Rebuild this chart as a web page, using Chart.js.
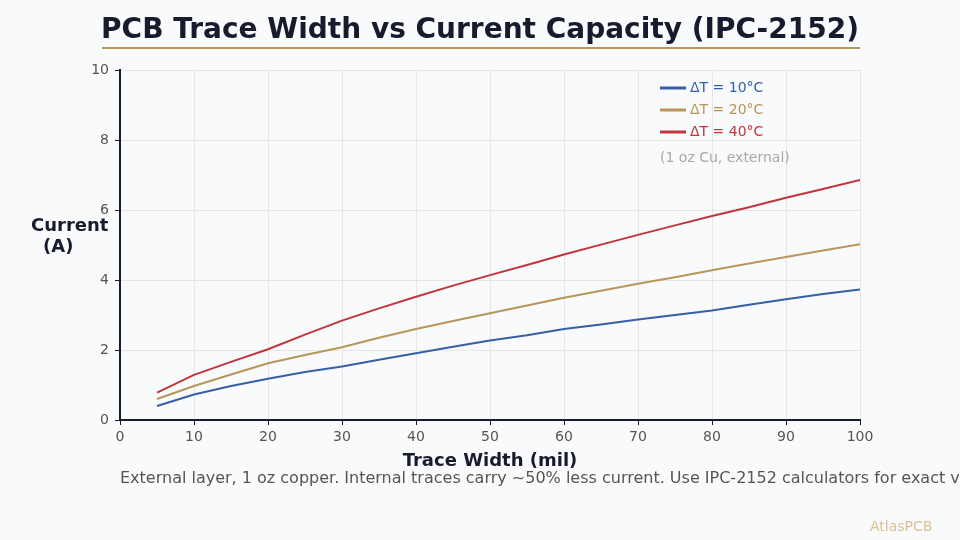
<!DOCTYPE html>
<html>
<head>
<meta charset="utf-8">
<script src="https://cdn.jsdelivr.net/npm/chart.js@4"></script>
<style>
  html, body { margin: 0; padding: 0; background: #f9fafc; }
  #wrap { width: 960px; height: 540px; }
</style>
</head>
<body>
<div id="wrap"><canvas id="chart" width="960" height="540"></canvas></div>
<script>
// trace width in mil
const widths = [5, 10, 15, 20, 25, 30, 35, 40, 45, 50, 55, 60, 65, 70, 75, 80, 85, 90, 95, 100];
// current in A for each temperature rise
const rise10 = [0.40, 0.73, 0.97, 1.18, 1.37, 1.53, 1.72, 1.91, 2.09, 2.27, 2.42, 2.60, 2.73, 2.87, 3.00, 3.13, 3.29, 3.45, 3.60, 3.73];
const rise20 = [0.60, 0.97, 1.30, 1.62, 1.86, 2.08, 2.35, 2.60, 2.83, 3.05, 3.27, 3.49, 3.69, 3.89, 4.08, 4.28, 4.47, 4.66, 4.84, 5.02];
const rise40 = [0.78, 1.29, 1.66, 2.02, 2.44, 2.84, 3.19, 3.52, 3.84, 4.14, 4.43, 4.73, 5.01, 5.29, 5.56, 5.83, 6.08, 6.35, 6.60, 6.86];
const seriesNames = ['ΔT = 10°C', 'ΔT = 20°C', 'ΔT = 40°C'];
const seriesColors = ['#3560a5', '#b8955a', '#c0363c'];

const ctx = document.getElementById('chart').getContext('2d');
const FONT = '"DejaVu Sans", sans-serif';
const DARK = '#1a1a2e';

function toPoints(values) {
    return widths.map((w, i) => ({ x: w, y: values[i] }));
}

// title, axis titles, legend and notes drawn on top
const decorations = {
    id: 'decorations',
    afterDraw(chart) {
        const c = chart.ctx;
        c.save();

        c.fillStyle = DARK;
        c.font = 'bold 28px ' + FONT;
        c.textAlign = 'center';
        c.textBaseline = 'middle';
        c.fillText('PCB Trace Width vs Current Capacity (IPC-2152)', 480, 31);
        c.fillStyle = '#b8955a';
        c.fillRect(102, 47, 758, 2);

        c.fillStyle = DARK;
        c.font = 'bold 18px ' + FONT;
        c.textAlign = 'left';
        c.fillText('Current', 31, 226);
        c.fillText('(A)', 43, 247);
        c.textAlign = 'center';
        c.fillText('Trace Width (mil)', 490, 461);

        // legend
        c.textAlign = 'left';
        c.font = '14px ' + FONT;
        seriesNames.forEach((name, i) => {
            const y = 88 + i * 22;
            c.strokeStyle = seriesColors[i];
            c.lineWidth = 3;
            c.beginPath();
            c.moveTo(660, y);
            c.lineTo(686, y);
            c.stroke();
            c.fillStyle = seriesColors[i];
            c.fillText(name, 690, y);
        });
        c.fillStyle = '#a8a8a8';
        c.fillText('(1 oz Cu, external)', 660, 158);

        c.fillStyle = '#555555';
        c.font = '16px ' + FONT;
        c.fillText('External layer, 1 oz copper. Internal traces carry ~50% less current. Use IPC-2152 calculators for exact values.', 120, 479);

        c.fillStyle = '#dcc293';
        c.font = '14px ' + FONT;
        c.fillText('AtlasPCB', 870, 527);

        c.restore();
    }
};

const chartConfig = {
    type: 'line',
    data: {
        datasets: [rise10, rise20, rise40].map((values, i) => ({
            label: seriesNames[i],
            data: toPoints(values),
            borderColor: seriesColors[i],
            backgroundColor: seriesColors[i],
            borderWidth: 2,
            pointRadius: 0,
            tension: 0
        }))
    },
    options: {
        responsive: false,
        animation: false,
        layout: { padding: { left: 0, right: 100, top: 70, bottom: 0 } },
        plugins: {
            legend: { display: false },
            tooltip: { enabled: false }
        },
        scales: {
            x: {
                type: 'linear',
                min: 0,
                max: 100,
                ticks: { stepSize: 10, color: '#555555', font: { family: FONT, size: 14 }, padding: 4, maxRotation: 0 },
                grid: { color: '#e6e6e6', tickColor: DARK, tickLength: 5 },
                border: { color: DARK, width: 2 },
                afterFit(scale) { scale.height = 120; }
            },
            y: {
                min: 0,
                max: 10,
                ticks: { stepSize: 2, color: '#555555', font: { family: FONT, size: 14 }, padding: 6 },
                grid: { color: '#e6e6e6', tickColor: DARK, tickLength: 5 },
                border: { color: DARK, width: 2 },
                afterFit(scale) { scale.width = 120; }
            }
        }
    },
    plugins: [decorations]
};

const chart = new Chart(ctx, chartConfig);
</script>
</body>
</html>
